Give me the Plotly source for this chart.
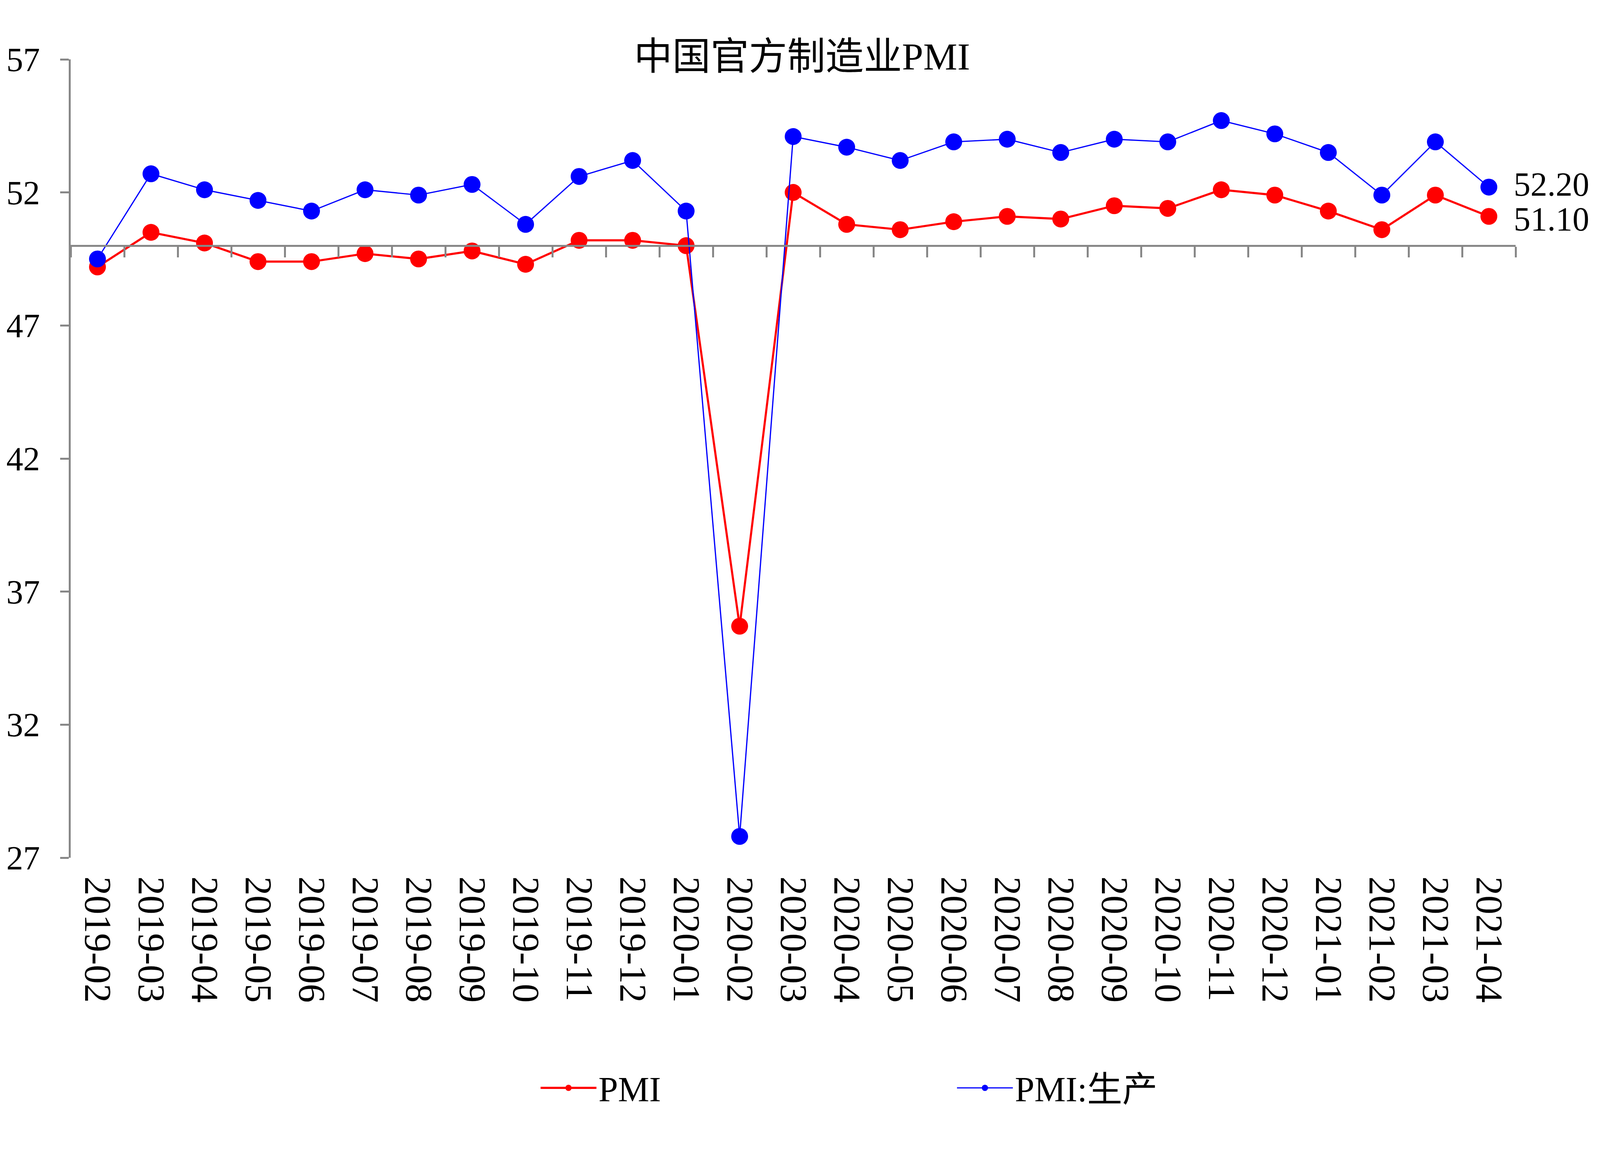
import plotly.graph_objects as go

months = ["2019-02", "2019-03", "2019-04", "2019-05", "2019-06", "2019-07",
          "2019-08", "2019-09", "2019-10", "2019-11", "2019-12", "2020-01",
          "2020-02", "2020-03", "2020-04", "2020-05", "2020-06", "2020-07",
          "2020-08", "2020-09", "2020-10", "2020-11", "2020-12", "2021-01",
          "2021-02", "2021-03", "2021-04"]
pmi = [49.2, 50.5, 50.1, 49.4, 49.4, 49.7, 49.5, 49.8, 49.3, 50.2, 50.2, 50.0,
       35.7, 52.0, 50.8, 50.6, 50.9, 51.1, 51.0, 51.5, 51.4, 52.1, 51.9, 51.3,
       50.6, 51.9, 51.1]
pmi_prod = [49.5, 52.7, 52.1, 51.7, 51.3, 52.1, 51.9, 52.3, 50.8, 52.6, 53.2, 51.3,
            27.8, 54.1, 53.7, 53.2, 53.9, 54.0, 53.5, 54.0, 53.9, 54.7, 54.2, 53.5,
            51.9, 53.9, 52.2]
y_ticks = [27, 32, 37, 42, 47, 52, 57]
y_min, y_max = 27, 57
base_value = 50

# visible page area (css px) that the photo covers, and reference size
FRAME_W, FRAME_H = 4100, 2950
REF_W, REF_H = 5056, 2952
BODY = 8  # default page margin (css px)
SX, SY = FRAME_W / REF_W, FRAME_H / REF_H
SS = (SX * SY) ** 0.5


def px(p):
    """reference size -> css size"""
    return p * SS


def pos_x(p):
    return p * SX - BODY


def pos_y(p):
    return p * SY - BODY


W = FRAME_W - 2 * BODY
H = FRAME_H - 2 * BODY
plot_l, plot_r = pos_x(223), pos_x(4785)
plot_t, plot_b = pos_y(152), pos_y(2197)
plot_w, plot_h = plot_r - plot_l, plot_b - plot_t

AXIS_GREY = "#878787"
FONT = "Liberation Serif, Times New Roman, Noto Sans CJK SC, serif"
FS = px(100)
TICKLEN_Y = 28 * SX
TICKLEN_X = 27 * SY

fig = go.Figure()
fig.add_trace(go.Scatter(
    x=months, y=pmi, name="PMI", mode="lines+markers",
    line=dict(color="#FF0000", width=px(6)),
    marker=dict(size=px(48), color="#FF0000"),
))
fig.add_trace(go.Scatter(
    x=months, y=pmi_prod, name="PMI:生产", mode="lines+markers",
    line=dict(color="#0000FF", width=px(3.5)),
    marker=dict(size=px(48), color="#0000FF"),
))
# invisible trace so the crossing axis at 50 is drawn
fig.add_trace(go.Scatter(
    x=months, y=[None] * len(months), xaxis="x2", yaxis="y",
    showlegend=False, hoverinfo="skip", mode="lines",
))

# end-of-series value labels
for val, nudge in ((pmi_prod[-1], 7), (pmi[-1], -7)):
    fig.add_annotation(
        x=months[-1], y=val, text=f"{val:.2f}", showarrow=False,
        xanchor="left", yanchor="middle", xshift=(4779 - 4702) * SX,
        yshift=nudge, borderpad=0,
        font=dict(family=FONT, size=86, color="black"),
    )

leg_x_css = pos_x(1709) - 7
leg_y_css = pos_y(2795) - 8
item_w = round(164 * SX + 10)

fig.update_layout(
    width=W, height=H,
    paper_bgcolor="white", plot_bgcolor="white",
    margin=dict(l=plot_l, r=W - plot_r, t=plot_t, b=H - plot_b, pad=0,
                autoexpand=False),
    font=dict(family=FONT, size=FS, color="black"),
    title=dict(text="中国官方制造业PMI", x=pos_x(2532) / W, xanchor="center",
               y=1 - (pos_y(136) + 8) / H, yanchor="middle",
               font=dict(family=FONT, size=98, color="black")),
    xaxis=dict(
        type="category", range=[-0.5, len(months) - 0.5], automargin=False,
        showline=False, ticks="", showgrid=False, zeroline=False,
        tickangle=90, tickfont=dict(size=97),
        ticklabelstandoff=round(55 * SY - 8),
    ),
    xaxis2=dict(
        type="category", overlaying="x", matches="x", anchor="free",
        position=(base_value - y_min) / (y_max - y_min), side="bottom",
        automargin=False,
        showline=True, linecolor=AXIS_GREY, linewidth=px(5),
        ticks="outside", ticklen=TICKLEN_X, tickwidth=px(5), tickcolor=AXIS_GREY,
        tickson="boundaries", showticklabels=False, showgrid=False,
        zeroline=False,
    ),
    yaxis=dict(
        range=[y_min, y_max], tickvals=y_ticks, showline=True, automargin=False,
        linecolor=AXIS_GREY, linewidth=px(5), ticks="outside", ticklen=TICKLEN_Y,
        tickwidth=px(5), tickcolor=AXIS_GREY, showgrid=False, zeroline=False,
        tickfont=dict(size=86),
        ticklabelstandoff=34,
    ),
    legend=dict(
        orientation="h", x=(leg_x_css - plot_l) / plot_w, xanchor="left",
        y=(plot_b - leg_y_css) / plot_h, yanchor="middle",
        font=dict(family=FONT, size=FS), itemwidth=item_w,
        entrywidth=round(1310 * SX - item_w - 19) + 8,
        bgcolor="rgba(0,0,0,0)",
    ),
    showlegend=True,
)

fig.write_html("out.html")
